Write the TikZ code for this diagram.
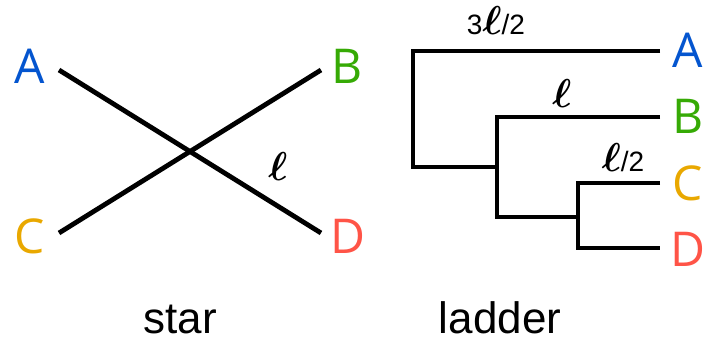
\documentclass[tikz,border=0pt]{standalone}
\usepackage{fontspec}
\setmainfont{Liberation Sans}
\newfontfamily\letterfont{Open Sans}
\definecolor{cA}{HTML}{0455CF}
\definecolor{cB}{HTML}{36AA05}
\definecolor{cC}{HTML}{E9A800}
\definecolor{cD}{HTML}{FF5447}
\newcommand{\myell}{\scalebox{1.62}{\boldmath$\ell$}}
\tikzset{
  leaf/.style={font=\letterfont\fontsize{48}{48}\selectfont, inner sep=0pt, anchor=base},
  branch/.style={line width=4.8pt, line cap=butt, line join=miter},
  lenlabel/.style={font=\fontsize{28}{28}\selectfont, inner sep=0pt, anchor=base},
  caption/.style={font=\fontsize{44}{44}\selectfont, inner sep=0pt, anchor=base}
}
\begin{document}
\begin{tikzpicture}[x=1pt,y=-1pt]
\useasboundingbox (0,0) rectangle (704,337);
% star
\node[leaf, text=cA] (sA) at (30,83) {A};
\node[leaf, text=cB] (sB) at (347,83) {B};
\node[leaf, text=cC] (sC) at (30,253) {C};
\node[leaf, text=cD] (sD) at (348,253) {D};
\coordinate (eA) at (59,70);
\coordinate (eB) at (321,70);
\coordinate (eC) at (59,233);
\coordinate (eD) at (321,233);
\draw[branch] (eA) -- (eD);
\draw[branch] (eB) -- (eC);
\node[lenlabel] (sl) at (278,180) {\myell};
% ladder
\node[leaf, text=cA] (lA) at (688,67) {A};
\node[leaf, text=cB] (lB) at (688,133) {B};
\node[leaf, text=cC] (lC) at (688,200) {C};
\node[leaf, text=cD] (lD) at (688,266) {D};
\coordinate (tA) at (660,51);
\coordinate (tB) at (660,117);
\coordinate (tC) at (660,183);
\coordinate (tD) at (660,248);
\draw[branch] (tA) -- (413,51) -- (413,167) -- (499,167);
\draw[branch] (tB) -- (497,117) -- (497,217) -- (580,217);
\draw[branch] (tC) -- (578,183) -- (578,248) -- (tD);
\node[lenlabel] (l1) at (496,35) {3\myell/2};
\node[lenlabel] (l2) at (562,107) {\myell};
\node[lenlabel] (l3) at (623,171) {\myell/2};
% captions
\node[caption] (cap1) at (180,333) {star};
\node[caption] (cap2) at (500,333) {ladder};
\end{tikzpicture}
\end{document}
